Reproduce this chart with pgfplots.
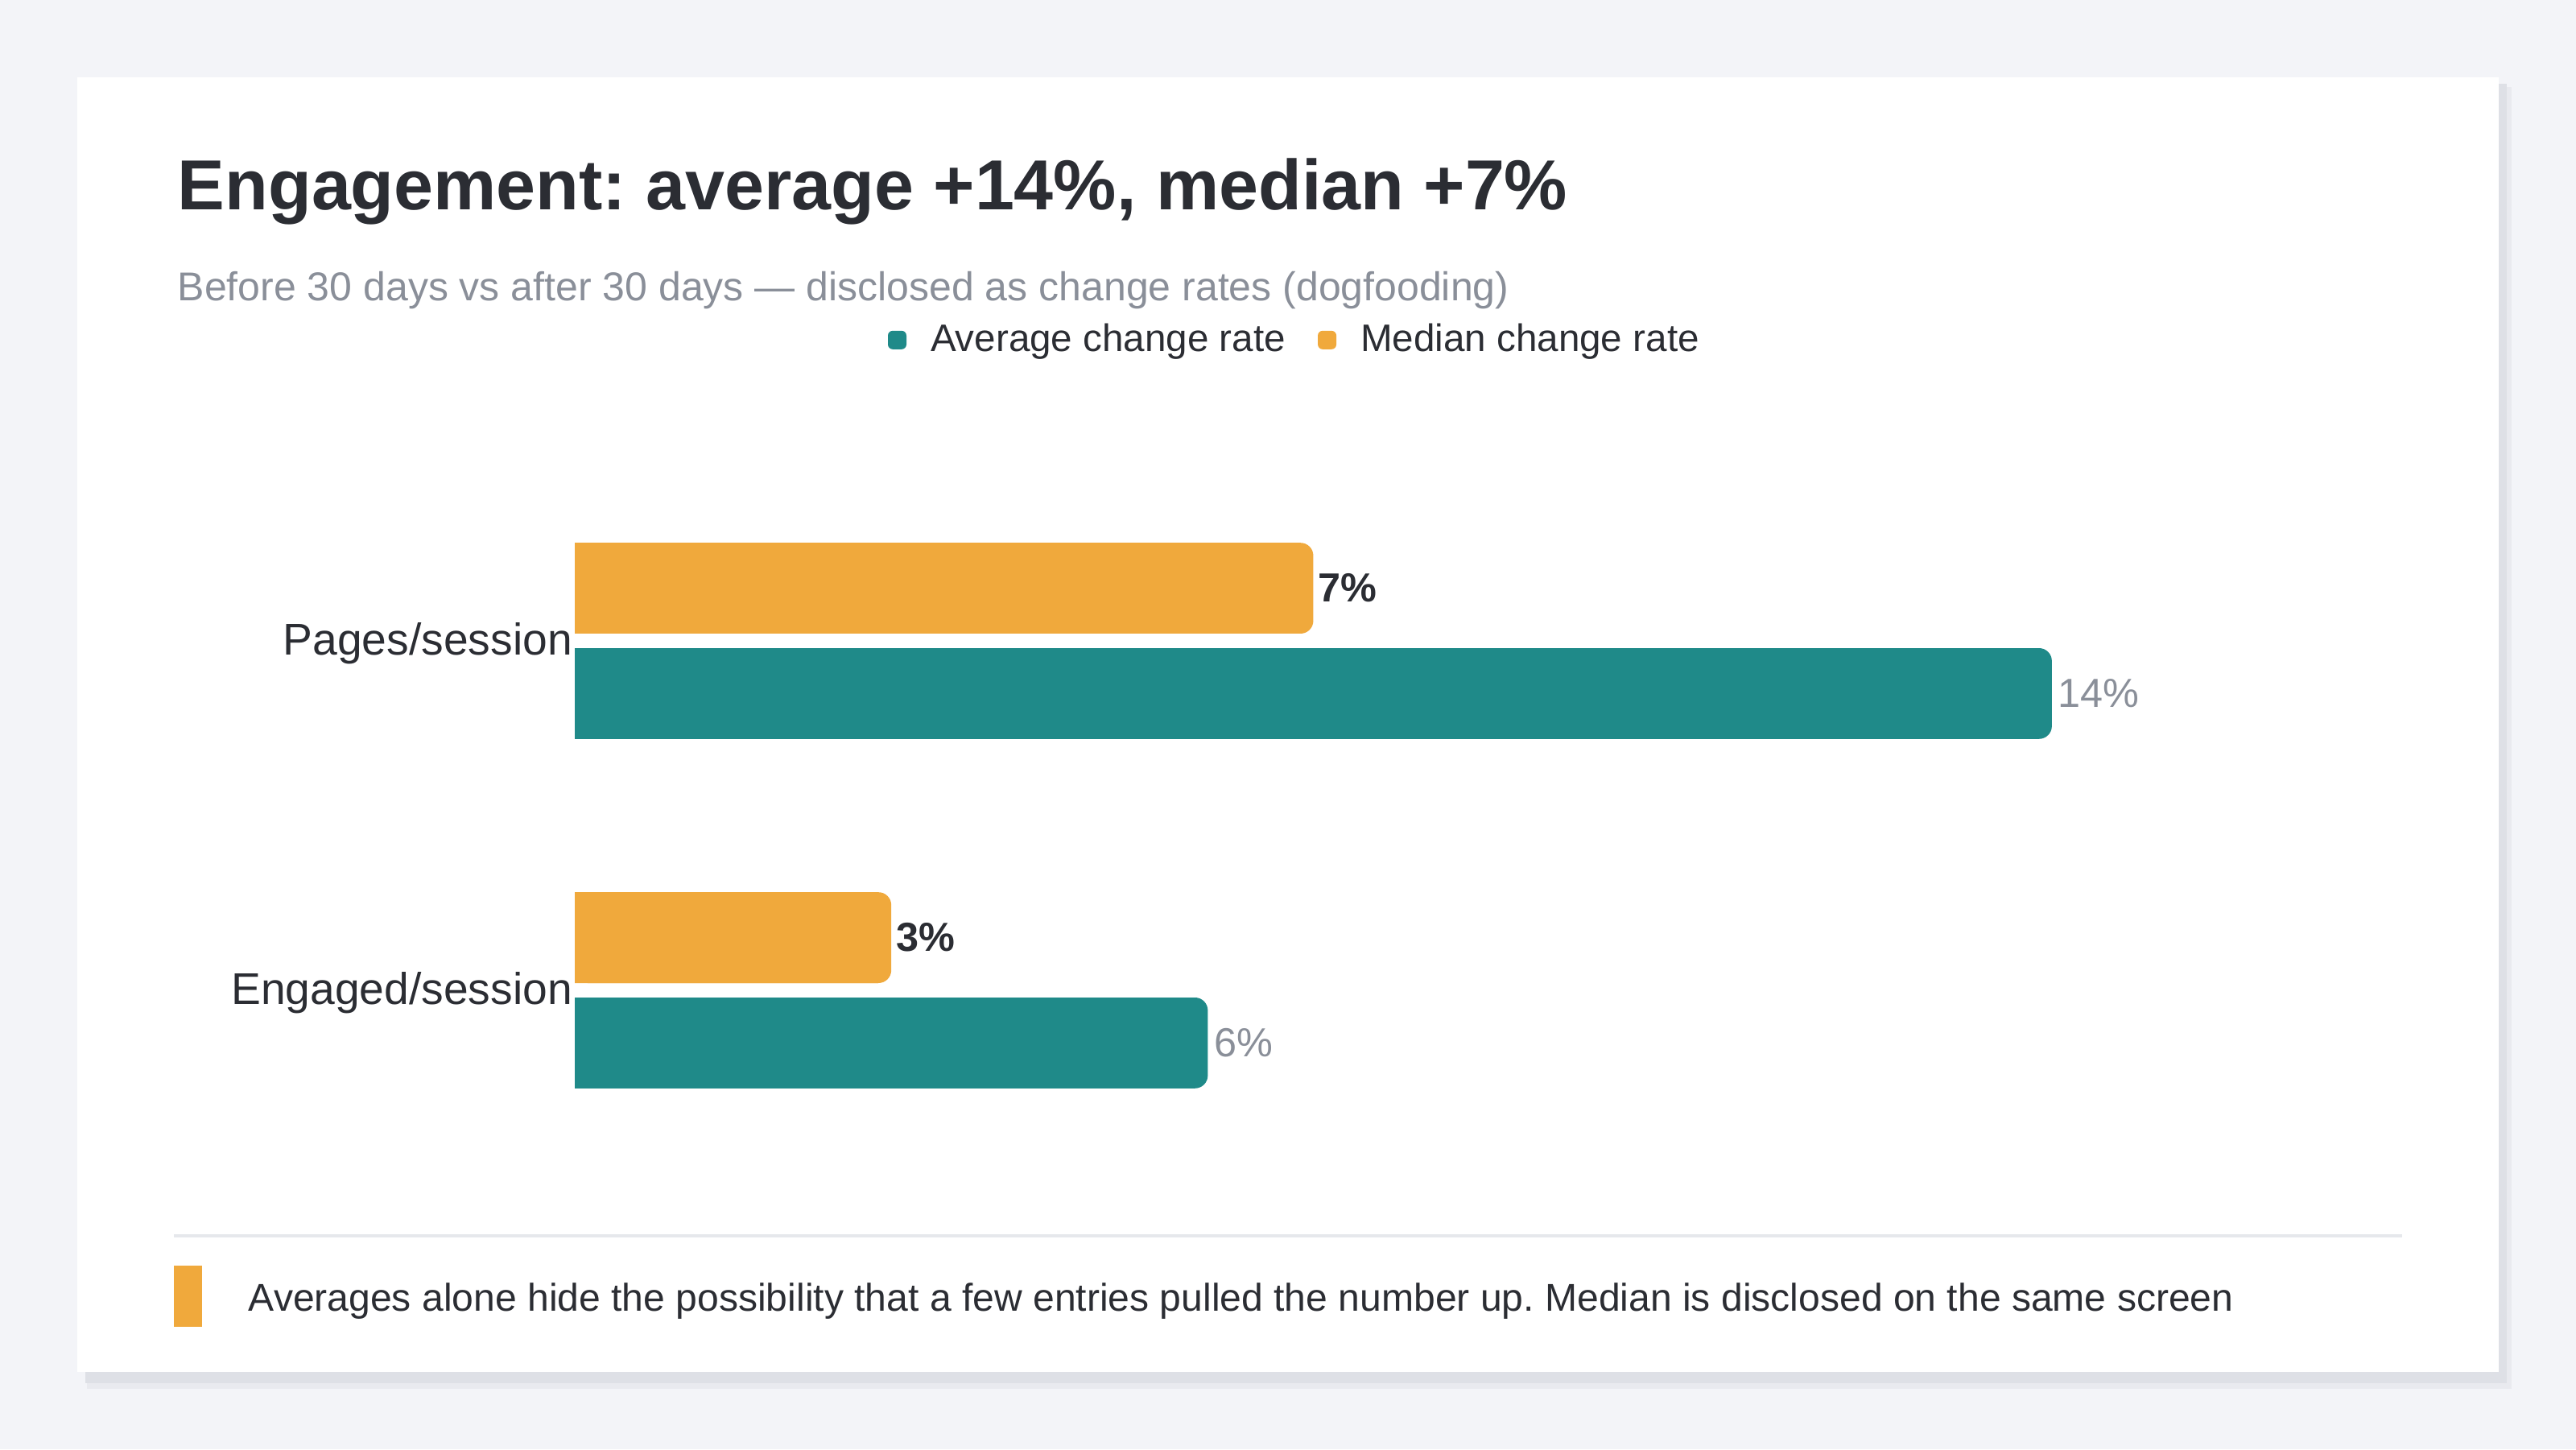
\documentclass[border=0pt]{standalone}
\usepackage{pgfplots}
\pgfplotsset{compat=1.18}
\usepackage{fontspec}
\setmainfont{Liberation Sans}
\frenchspacing
\definecolor{bg}{HTML}{F3F4F8}
\definecolor{shadowA}{HTML}{E9EAEF}
\definecolor{shadowB}{HTML}{DEE0E6}
\definecolor{barTeal}{HTML}{1F8A89}
\definecolor{barOrange}{HTML}{F0A93C}
\definecolor{ink}{HTML}{2B2D33}
\definecolor{muted}{HTML}{8A8F99}
\definecolor{rulegray}{HTML}{E6E8EC}
\pgfplotsset{
  tealleg/.style={legend image code/.code={\fill[barTeal, rounded corners=1.5pt] (0pt,-2.875pt) rectangle (5.75pt,2.875pt);}},
  orangeleg/.style={legend image code/.code={\fill[barOrange, rounded corners=1.5pt] (0pt,-2.875pt) rectangle (5.75pt,2.875pt);}},
}
\begin{document}
\begin{tikzpicture}
\fill[bg] (0,0) rectangle (800pt,450pt);
\fill[shadowA] (27pt,18.75pt) rectangle (780pt,423pt);
\fill[shadowB] (26.5pt,20.5pt) rectangle (778.5pt,424pt);
\fill[white] (24pt,24pt) rectangle (776pt,426pt);
\node[anchor=base west, inner sep=0pt, text=ink, font=\fontsize{22}{26}\selectfont\bfseries] at (55pt,384.75pt) {Engagement: average +14\%, median +7\%};
\node[anchor=base west, inner sep=0pt, text=muted, font=\fontsize{12.5}{14}\selectfont] at (55pt,356.5pt) {Before 30 days vs after 30 days — disclosed as change rates (dogfooding)};
\draw[rulegray, line width=1pt] (54pt,66.25pt) -- (746pt,66.25pt);
\fill[barOrange] (54pt,38pt) rectangle (62.75pt,57pt);
\node[anchor=base west, inner sep=0pt, text=ink, font=\fontsize{12.02}{14}\selectfont] at (77pt,43pt) {Averages alone hide the possibility that a few entries pulled the number up. Median is disclosed on the same screen};
\begin{axis}[
  at={(178.5pt,88.25pt)}, anchor=south west, scale only axis,
  width=524.25pt, height=217pt,
  xmin=0, xmax=16, ymin=-0.5, ymax=1.5,
  axis line style={draw=none},
  xtick=\empty, ytick={0,1}, yticklabels={Engaged/session,Pages/session},
  major tick length=0pt,
  yticklabel style={font=\fontsize{13.8}{16}\selectfont, text=ink, inner sep=0pt, xshift=-0.6pt, yshift=-0.8pt},
  xbar, bar width=28.2pt,
  point meta=x,
  /pgf/number format/assume math mode=true,
  legend columns=2,
  legend style={at={(0.1855,1.1805)}, anchor=west, draw=none, fill=none, inner sep=0pt, outer sep=0pt,
    font=\fontsize{11.9}{14}\selectfont, text=ink,
    /tikz/every odd column/.style={column sep=7.5pt},
    /tikz/every even column/.style={column sep=10pt},
    nodes={inner sep=0pt}},
  legend cell align=left,
  nodes near coords={\pgfmathprintnumber[fixed,precision=0,assume math mode=true]{\pgfplotspointmeta}\%},
  nodes near coords align={horizontal},
]
\addplot[xbar, bar shift=-16.35pt, fill=barTeal, draw=none, rounded corners=4pt,
  every node near coord/.append style={font=\fontsize{12.6}{14}\selectfont, text=muted, anchor=west, inner xsep=1.8pt},
  tealleg] coordinates {(14,1) (6,0)};
\addlegendentry{Average change rate}
\addplot[forget plot, xbar, bar shift=-16.35pt, fill=barTeal, draw=none, xshift=-4pt, nodes near coords={}] coordinates {(14,1) (6,0)};
\addplot[xbar, bar shift=16.35pt, fill=barOrange, draw=none, rounded corners=4pt,
  every node near coord/.append style={font=\fontsize{12.6}{14}\selectfont\bfseries, text=ink, anchor=west, inner xsep=1.3pt},
  orangeleg] coordinates {(7,1) (3,0)};
\addlegendentry{Median change rate}
\addplot[forget plot, xbar, bar shift=16.35pt, fill=barOrange, draw=none, xshift=-4pt, nodes near coords={}] coordinates {(7,1) (3,0)};
\end{axis}
\end{tikzpicture}
\end{document}
